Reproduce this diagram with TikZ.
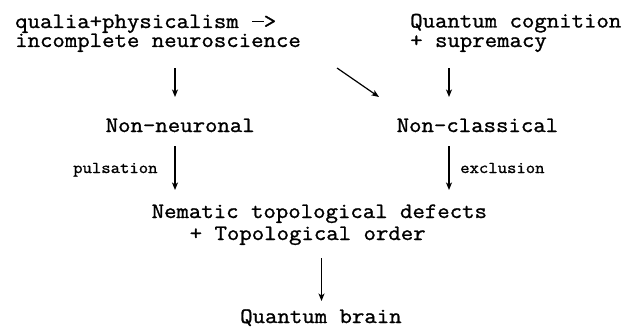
\documentclass[tikz,border=0pt]{standalone}
\usepackage{fontspec}
\setmonofont{Latin Modern Mono}[FakeStretch=1.096,FakeBold=1.2]
\usetikzlibrary{arrows.meta}
\newcommand{\longdash}{\makebox[12.65pt][r]{\rule[5.6pt]{11.5pt}{1.4pt}}}
\begin{document}
\begin{tikzpicture}[x=1pt,y=-1pt,
  big/.style={inner sep=0pt,anchor=base west,font=\ttfamily\fontsize{22}{22}\selectfont},
  small/.style={inner sep=0pt,anchor=base west,font=\ttfamily\fontsize{16.6}{17}\selectfont},
  arr/.style={line width=1.2pt,-{Stealth[length=7.5pt,width=6pt,inset=2pt]}}]
\useasboundingbox[fill=white] (0,0) rectangle (639,329);
\node[big] (q1) at (15,28) {qualia+physicalism \longdash>};
\node[big] (q2) at (15,47) {incomplete neuroscience};
\node[big] (c1) at (410,27.5) {Quantum cognition};
\node[big] (c2) at (410,47) {+ supremacy};
\node[big] (nn) at (105.5,132) {Non-neuronal};
\node[big] (nc) at (396.5,132) {Non-classical};
\node[small] (pl) at (73,173) {pulsation};
\node[small] (ex) at (460,173) {exclusion};
\node[big] (ne1) at (151.5,218) {Nematic topological defects};
\node[big] (ne2) at (189.5,240) {+ Topological order};
\node[big] (qb) at (240,323) {Quantum brain};
\coordinate (a1s) at (175,68);  \coordinate (a1e) at (175,97);
\coordinate (a2s) at (337,68);  \coordinate (a2e) at (379,97);
\coordinate (a3s) at (449,68);  \coordinate (a3e) at (449,97);
\coordinate (a4s) at (175,146); \coordinate (a4e) at (175,190);
\coordinate (a5s) at (449,146); \coordinate (a5e) at (449,190);
\coordinate (a6s) at (321.5,258); \coordinate (a6e) at (321.5,301);
\draw[arr] (a1s) -- (a1e);
\draw[arr] (a2s) -- (a2e);
\draw[arr] (a3s) -- (a3e);
\draw[arr] (a4s) -- (a4e);
\draw[arr] (a5s) -- (a5e);
\draw[arr] (a6s) -- (a6e);
\end{tikzpicture}
\end{document}
